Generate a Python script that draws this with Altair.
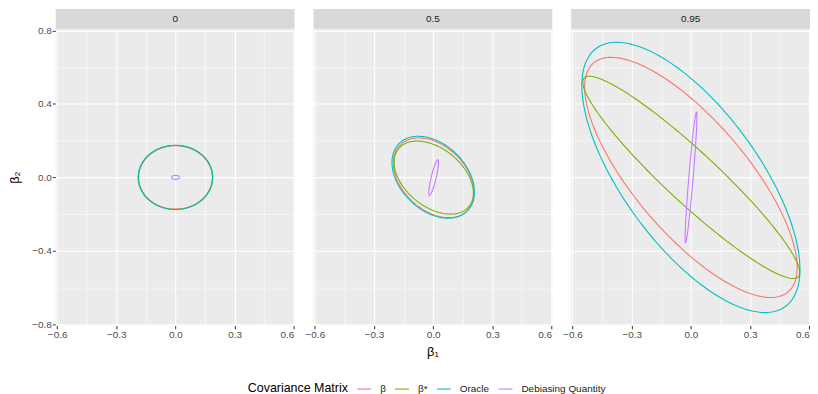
import numpy as np
import pandas as pd
import altair as alt

# Facet panels (correlation values) and legend categories
panels = ["0", "0.5", "0.95"]
matrices = ["β", "β*", "Oracle", "Debiasing Quantity"]
colors = ["#F8766D", "#7CAE00", "#00BFC4", "#C77CFF"]

# Ellipse parameters, per panel, in the order of `matrices`
center_x = {"0": [0.0, 0.0, 0.0, 0.0], "0.5": [0.003, 0.003, 0.0, 0.0025], "0.95": [0.0, 0.002, 0.0, 0.0005]}
center_y = {"0": [0.0, 0.0, 0.0, 0.0], "0.5": [-0.002, -0.001, 0.001, -0.001], "0.95": [0.0, 0.0, 0.0, 0.0]}
half_x = {"0": [0.187, 0.188, 0.189, 0.020], "0.5": [0.205, 0.201, 0.209, 0.0245], "0.95": [0.539, 0.550, 0.553, 0.030]}
half_y = {"0": [0.173, 0.174, 0.175, 0.011], "0.5": [0.217, 0.199, 0.223, 0.097], "0.95": [0.654, 0.551, 0.736, 0.356]}
corr = {"0": [0.0, 0.0, 0.0, 0.0], "0.5": [-0.37, -0.42, -0.36, 0.85], "0.95": [-0.75, -0.94, -0.68, 0.93]}

x_ticks = [-0.6, -0.45, -0.3, -0.15, 0.0, 0.15, 0.3, 0.45, 0.6]
y_ticks = [-0.8, -0.6, -0.4, -0.2, 0.0, 0.2, 0.4, 0.6, 0.8]

# Build the long table of ellipse outlines
rows = []
angles = np.linspace(0, 2 * np.pi, 181)
for p in panels:
    for mi, m in enumerate(matrices):
        cx, cy = center_x[p][mi], center_y[p][mi]
        sx, sy, r = half_x[p][mi], half_y[p][mi], corr[p][mi]
        for ti, a in enumerate(angles):
            rows.append({
                "panel": p, "matrix": m, "mi": mi, "t": ti,
                "x": cx + sx * np.cos(a),
                "y": cy + sy * (r * np.cos(a) + np.sqrt(1 - r * r) * np.sin(a)),
            })
df = pd.DataFrame(rows)

W, H = 240, 298
FONT = "Liberation Sans"

x_major = "round(datum.value*100) % 30 == 0"
y_major = "round(datum.value*100) % 40 == 0"

x_axis = alt.Axis(
    values=x_ticks, title=None, domain=False,
    labelExpr=f"{x_major} ? format(datum.value, '.1f') : ''",
    labelColor="#4D4D4D", labelFontSize=10, labelFont=FONT, labelPadding=1,
    tickSize=3.5, tickColor={"condition": {"test": x_major, "value": "#333333"}, "value": "transparent"},
    gridColor="white",
    gridWidth={"condition": {"test": x_major, "value": 1.1}, "value": 0.55},
)
y_axis = alt.Axis(
    values=y_ticks, title="β₂", domain=False,
    labelExpr=f"{y_major} ? format(datum.value, '.1f') : ''",
    labelColor="#4D4D4D", labelFontSize=10, labelFont=FONT, labelPadding=1,
    tickSize=3.5, tickColor={"condition": {"test": y_major, "value": "#333333"}, "value": "transparent"},
    gridColor="white",
    gridWidth={"condition": {"test": y_major, "value": 1.1}, "value": 0.55},
    titleFont=FONT, titleFontSize=13, titleFontWeight="normal", titleColor="black", titlePadding=10,
)

base = alt.Chart()

lines = base.mark_line(strokeWidth=1.1).encode(
    x=alt.X("x:Q", scale=alt.Scale(domain=[-0.607, 0.604], nice=False, zero=False), axis=x_axis),
    y=alt.Y("y:Q", scale=alt.Scale(domain=[-0.806, 0.809], nice=False, zero=False), axis=y_axis),
    color=alt.Color(
        "matrix:N",
        scale=alt.Scale(domain=matrices, range=colors),
        sort=matrices,
        legend=alt.Legend(
            title="Covariance Matrix", orient="none", legendX=193, legendY=354,
            direction="horizontal", titleOrient="left", titleFont=FONT, titleFontSize=12.5,
            titleFontWeight="normal", titleColor="black", labelFont=FONT, labelFontSize=10,
            labelColor="#1A1A1A", symbolType="stroke", symbolSize=196, symbolStrokeWidth=1.1,
            columnPadding=6, labelOffset=8, titlePadding=8,
        ),
    ),
    detail="matrix:N",
    order="t:Q",
)

strip = base.transform_filter("datum.t == 0 && datum.mi == 0").mark_rect(color="#D9D9D9").encode(
    x=alt.value(0), x2=alt.value(W), y=alt.value(-20), y2=alt.value(0)
)
strip_text = base.transform_filter("datum.t == 0 && datum.mi == 0").mark_text(
    fontSize=10, color="#1A1A1A", font=FONT, baseline="middle"
).encode(x=alt.value(W / 2), y=alt.value(-10), text="panel:N")

chart = alt.layer(strip, strip_text, lines, data=df).properties(width=W, height=H).facet(
    column=alt.Column(
        "panel:N", sort=panels,
        header=alt.Header(
            labels=False, title="β₁", titleOrient="bottom", titleFont=FONT, titleFontSize=13,
            titleFontWeight="normal", titleColor="black", titlePadding=-4,
        ),
    ),
    spacing=19,
).properties(padding=0).configure(background="white").configure_view(fill="#EBEBEB", stroke=None)

chart.save("out.html", embed_options={"renderer": "svg", "actions": False})
